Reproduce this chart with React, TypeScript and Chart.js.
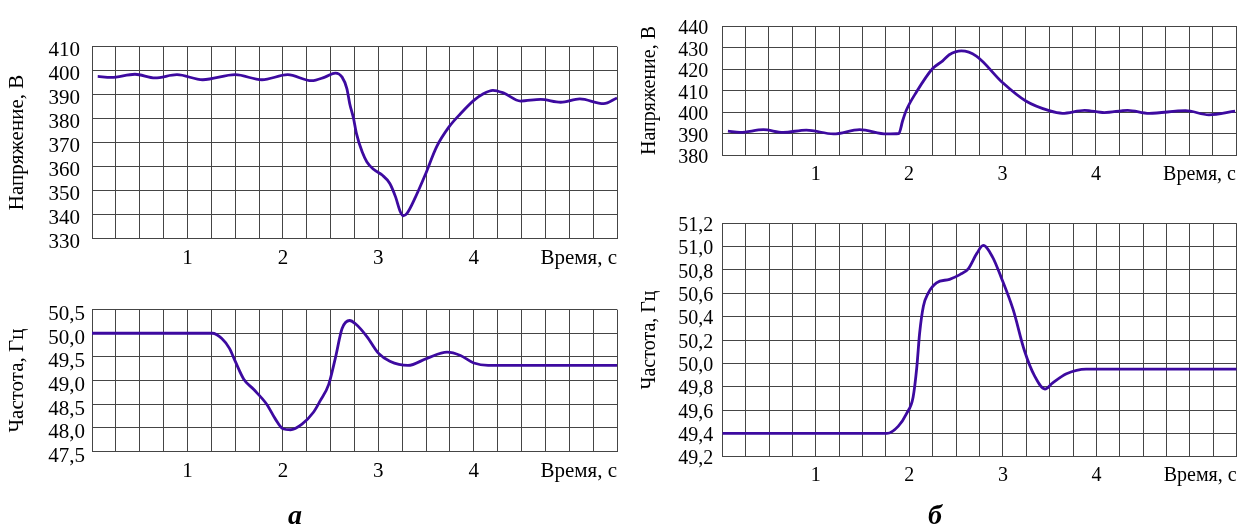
import React, { useEffect, useRef } from 'react';
import { Chart, registerables } from 'chart.js';

Chart.register(...registerables);

// ---------- Data (а) ----------
const aVoltTime = [0.06, 0.2, 0.45, 0.66, 0.89, 1.16, 1.5, 1.78, 2.05, 2.3, 2.44, 2.55, 2.62, 2.67, 2.7, 2.74, 2.77, 2.83, 2.88, 2.95, 3.04, 3.12, 3.18, 3.23, 3.26, 3.3, 3.39, 3.49, 3.61, 3.74, 3.86, 4.0, 4.1, 4.2, 4.31, 4.49, 4.7, 4.91, 5.11, 5.36, 5.5];
const aVoltage = [397.6, 397.2, 398.5, 397.0, 398.3, 396.2, 398.3, 396.2, 398.3, 395.8, 397.3, 399.0, 397.3, 392.5, 386.2, 380.0, 373.8, 366.1, 361.9, 358.8, 356.4, 352.9, 347.3, 341.1, 339.4, 340.4, 347.3, 356.4, 368.2, 376.5, 382.0, 387.6, 390.4, 391.8, 390.7, 387.3, 388.0, 386.8, 388.2, 386.2, 388.6];

const aFreqTime = [0, 1.26, 1.36, 1.44, 1.5, 1.59, 1.69, 1.83, 1.92, 2.0, 2.08, 2.2, 2.32, 2.39, 2.48, 2.55, 2.62, 2.7, 2.76, 2.88, 3.0, 3.12, 3.31, 3.51, 3.72, 3.86, 4.0, 4.15, 5.5];
const aFrequency = [50.0, 50.0, 49.89, 49.68, 49.41, 49.03, 48.82, 48.5, 48.19, 47.98, 47.96, 48.08, 48.33, 48.57, 48.92, 49.48, 50.1, 50.27, 50.2, 49.93, 49.58, 49.41, 49.32, 49.47, 49.6, 49.53, 49.37, 49.32, 49.32];

// ---------- Data (б) ----------
const bVoltTime = [0.06, 0.19, 0.44, 0.65, 0.9, 1.19, 1.47, 1.76, 1.89, 1.93, 1.97, 2.08, 2.25, 2.36, 2.43, 2.56, 2.72, 3.0, 3.25, 3.5, 3.64, 3.88, 4.09, 4.34, 4.57, 4.96, 5.21, 5.49];
const bVoltage = [391.1, 390.5, 391.8, 390.5, 391.6, 389.8, 391.8, 389.8, 390.0, 395.8, 400.8, 409.4, 420.1, 423.8, 426.6, 428.4, 426.0, 413.7, 405.1, 400.6, 399.4, 400.8, 399.7, 400.8, 399.4, 400.6, 398.7, 400.4];

const bFreqTime = [0, 1.76, 1.88, 1.97, 2.04, 2.08, 2.11, 2.15, 2.2, 2.29, 2.43, 2.54, 2.63, 2.72, 2.79, 2.89, 2.98, 3.11, 3.23, 3.34, 3.45, 3.53, 3.68, 3.89, 5.5];
const bFrequency = [49.4, 49.4, 49.46, 49.57, 49.71, 49.97, 50.26, 50.49, 50.6, 50.69, 50.72, 50.76, 50.81, 50.94, 51.01, 50.91, 50.74, 50.46, 50.11, 49.89, 49.78, 49.83, 49.91, 49.95, 49.95];

// ---------- Axis labels ----------
const xTickLabels = [1, 2, 3, 4];
const xMax = 5.5;
const xStep = 0.25;
const xTitle = 'Время, с';
const voltTitle = 'Напряжение, В';
const freqTitle = 'Частота, Гц';

const FONT = '"Liberation Serif", "Times New Roman", serif';
const LINE_COLOR = '#3d0aa0';
const GRID_COLOR = '#454545';

type Box = { left: number; top: number; width: number; height: number };
type PanelSpec = {
  canvas: Box;
  plot: Box;
  xs: number[];
  ys: number[];
  yMin: number;
  yMax: number;
  yStep: number;
  decimals: number;
  yTitle: string;
  yTickPad: number;
  yLabelOffset: number;
  yTitleX: number;
  xLabelY: number;
  fontSize: number;
};

function Panel({ spec }: { spec: PanelSpec }) {
  const ref = useRef<HTMLCanvasElement | null>(null);
  useEffect(() => {
    const s = spec;
    const c = s.canvas;
    const p = s.plot;
    const padTop = p.top - c.top;
    const yAxisW = p.left - c.left;
    const padRight = c.left + c.width - (p.left + p.width);
    const xAxisH = c.top + c.height - (p.top + p.height);
    const lh = s.fontSize * 1.2;
    const xTickPad = s.xLabelY - (p.top + p.height) - lh / 2;
    const titlePb = xAxisH - xTickPad - lh;
    const yTitlePadTop = s.yTitleX - c.left - lh / 2;
    const font = { family: FONT, size: s.fontSize, lineHeight: 1.2 };

    const chart = new Chart(ref.current as HTMLCanvasElement, {
      type: 'line',
      data: {
        datasets: [
          {
            data: s.xs.map((x, i) => ({ x, y: s.ys[i] })),
            borderColor: LINE_COLOR,
            borderWidth: 2.8,
            pointRadius: 0,
            cubicInterpolationMode: 'monotone',
            fill: false,
          },
        ],
      },
      options: {
        responsive: false,
        animation: false,
        events: [],
        layout: { padding: { top: padTop, right: padRight, left: 0, bottom: 0 } },
        plugins: { legend: { display: false }, tooltip: { enabled: false } },
        scales: {
          x: {
            type: 'linear',
            min: 0,
            max: xMax,
            afterFit: (scale: any) => {
              scale.height = xAxisH;
            },
            ticks: {
              stepSize: xStep,
              autoSkip: false,
              maxRotation: 0,
              padding: xTickPad,
              color: '#000',
              font,
              callback: (v: any) => (xTickLabels.includes(Number(v)) ? String(v) : ''),
            },
            grid: { color: GRID_COLOR, lineWidth: 1, drawTicks: false },
            border: { display: true, color: GRID_COLOR, width: 1 },
            title: {
              display: true,
              text: xTitle,
              align: 'end',
              color: '#000',
              font,
              padding: { top: 0, bottom: titlePb },
            },
          },
          y: {
            type: 'linear',
            min: s.yMin,
            max: s.yMax,
            afterFit: (scale: any) => {
              scale.width = yAxisW;
            },
            ticks: {
              stepSize: s.yStep,
              autoSkip: false,
              padding: s.yTickPad,
              labelOffset: s.yLabelOffset,
              color: '#000',
              font,
              callback: (v: any) => Number(v).toFixed(s.decimals).replace('.', ','),
            },
            grid: { color: GRID_COLOR, lineWidth: 1, drawTicks: false },
            border: { display: true, color: GRID_COLOR, width: 1 },
            title: {
              display: true,
              text: s.yTitle,
              color: '#000',
              font,
              padding: { top: yTitlePadTop, bottom: 0 },
            },
          },
        },
      } as any,
    });
    return () => chart.destroy();
  }, [spec]);

  return (
    <canvas
      ref={ref}
      width={spec.canvas.width}
      height={spec.canvas.height}
      style={{
        position: 'absolute',
        left: spec.canvas.left,
        top: spec.canvas.top,
        width: spec.canvas.width,
        height: spec.canvas.height,
      }}
    />
  );
}

const panels: PanelSpec[] = [
  {
    canvas: { left: 0, top: 0, width: 630, height: 290 },
    plot: { left: 92, top: 46.7, width: 525, height: 191.6 },
    xs: aVoltTime,
    ys: aVoltage,
    yMin: 330,
    yMax: 410,
    yStep: 10,
    decimals: 0,
    yTitle: voltTitle,
    yTickPad: 12,
    yLabelOffset: 4,
    yTitleX: 17,
    xLabelY: 258,
    fontSize: 21,
  },
  {
    canvas: { left: 0, top: 290, width: 630, height: 240 },
    plot: { left: 92, top: 307.5, width: 525, height: 144 },
    xs: aFreqTime,
    ys: aFrequency,
    yMin: 47.5,
    yMax: 50.5,
    yStep: 0.5,
    decimals: 1,
    yTitle: freqTitle,
    yTickPad: 7,
    yLabelOffset: 5,
    yTitleX: 17,
    xLabelY: 471.5,
    fontSize: 21,
  },
  {
    canvas: { left: 630, top: 0, width: 614, height: 200 },
    plot: { left: 722.3, top: 15.7, width: 514.4, height: 139.3 },
    xs: bVoltTime,
    ys: bVoltage,
    yMin: 380,
    yMax: 440,
    yStep: 10,
    decimals: 0,
    yTitle: voltTitle,
    yTickPad: 14,
    yLabelOffset: 3,
    yTitleX: 650,
    xLabelY: 175,
    fontSize: 20,
  },
  {
    canvas: { left: 630, top: 200, width: 614, height: 330 },
    plot: { left: 722.3, top: 223.3, width: 514.4, height: 233.4 },
    xs: bFreqTime,
    ys: bFrequency,
    yMin: 49.2,
    yMax: 51.2,
    yStep: 0.2,
    decimals: 1,
    yTitle: freqTitle,
    yTickPad: 9,
    yLabelOffset: 2.5,
    yTitleX: 650,
    xLabelY: 476,
    fontSize: 20,
  },
];

const captionStyle: React.CSSProperties = {
  position: 'absolute',
  top: 501,
  fontFamily: FONT,
  fontStyle: 'italic',
  fontWeight: 'bold',
  fontSize: 28,
  lineHeight: 1,
  transform: 'translateX(-50%)',
  color: '#000',
};

export default function App() {
  return (
    <div style={{ position: 'absolute', left: 0, top: 0, width: 1244, height: 530, background: '#fff' }}>
      {panels.map((p, i) => (
        <Panel key={i} spec={p} />
      ))}
      <span style={{ ...captionStyle, left: 295 }}>а</span>
      <span style={{ ...captionStyle, left: 935 }}>б</span>
    </div>
  );
}
